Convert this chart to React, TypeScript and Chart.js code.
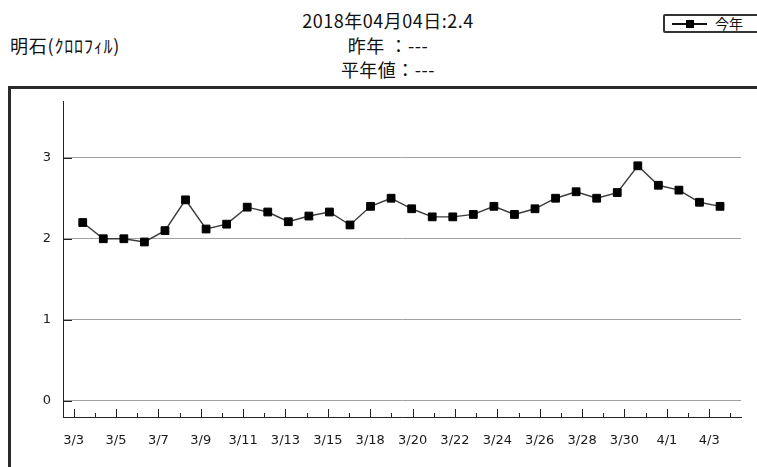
import React, { useEffect, useRef } from 'react';
import { Chart, registerables } from 'chart.js';

Chart.register(...registerables);

const categories = [
  '3/3', '3/4', '3/5', '3/6', '3/7', '3/8', '3/9', '3/10', '3/11', '3/12', '3/13', '3/14', '3/15', '3/16',
  '3/18', '3/19', '3/20', '3/21', '3/22', '3/23', '3/24', '3/25', '3/26', '3/27', '3/28', '3/29', '3/30', '3/31',
  '4/1', '4/2', '4/3', '4/4',
];

const values = [
  2.2, 2.0, 2.0, 1.96, 2.1, 2.48, 2.12, 2.18, 2.39, 2.33, 2.21, 2.28, 2.33, 2.17,
  2.4, 2.5, 2.37, 2.27, 2.27, 2.3, 2.4, 2.3, 2.37, 2.5, 2.58, 2.5, 2.57, 2.9,
  2.66, 2.6, 2.45, 2.4,
];

const yTicks = [0, 1, 2, 3];
const titleLines = ['2018年04月04日:2.4', '昨年 ：---', '平年値：---'];
const stationLabel = '明石(ｸﾛﾛﾌｨﾙ)';
const seriesName = '今年';

const JP = '"Noto Sans CJK JP", "Noto Sans", sans-serif';

export default function App() {
  const ref = useRef<HTMLCanvasElement>(null);

  useEffect(() => {
    const innerTicks = {
      id: 'innerTicks',
      beforeDatasetsDraw(chart: any) {
        const { ctx, chartArea, scales } = chart;
        const xs = scales.x;
        const ys = scales.y;
        ctx.save();
        ctx.strokeStyle = '#222';
        ctx.lineWidth = 1;
        ctx.beginPath();
        categories.forEach((_, i) => {
          const px = Math.round(xs.getPixelForValue(i)) + 0.5;
          const len = i % 2 === 0 ? 8 : 4;
          ctx.moveTo(px, chartArea.bottom);
          ctx.lineTo(px, chartArea.bottom - len);
        });
        yTicks.forEach((v) => {
          const py = Math.round(ys.getPixelForValue(v)) + 0.5;
          ctx.moveTo(chartArea.left, py);
          ctx.lineTo(chartArea.left + 9, py);
        });
        ctx.stroke();
        ctx.restore();
      },
    };

    const chart = new Chart(ref.current as HTMLCanvasElement, {
      type: 'line',
      data: {
        labels: categories,
        datasets: [
          {
            label: seriesName,
            data: values.map((v, i) => ({ x: i, y: v })),
            xAxisID: 'x2',
            yAxisID: 'y',
            borderColor: '#3a3a3a',
            borderWidth: 1.4,
            pointStyle: 'rect',
            pointRadius: 5.5,
            pointBackgroundColor: '#000',
            pointBorderColor: '#000',
            pointBorderWidth: 1,
            tension: 0,
          } as any,
        ],
      },
      options: {
        animation: false,
        responsive: false,
        layout: { autoPadding: false, padding: { top: 12, right: 16, left: 0, bottom: 0 } },
        plugins: { legend: { display: false }, tooltip: { enabled: false } },
        scales: {
          x: {
            type: 'category',
            offset: true,
            position: 'bottom',
            grid: { drawOnChartArea: false, drawTicks: false },
            border: { display: true, color: '#222', width: 1 },
            ticks: {
              autoSkip: false,
              maxRotation: 0,
              minRotation: 0,
              padding: 16,
              color: '#1a1a1a',
              font: { family: '"DejaVu Sans"', size: 13 },
              callback: (_v: any, i: number) => (i % 2 === 0 ? categories[i] : ''),
            },
            afterFit: (s: any) => {
              s.height = 50;
              s.paddingLeft = 0;
              s.paddingRight = 0;
            },
          },
          x2: {
            type: 'linear',
            display: false,
            min: -0.96,
            max: 32.02,
          },
          y: {
            min: -0.2,
            max: 3.7,
            afterBuildTicks: (s: any) => {
              s.ticks = yTicks.map((v) => ({ value: v }));
            },
            grid: { color: '#a0a0a0', drawTicks: false },
            border: { display: true, color: '#222', width: 1 },
            ticks: {
              padding: 12,
              color: '#1a1a1a',
              font: { family: '"DejaVu Sans"', size: 13 },
            },
            afterFit: (s: any) => {
              s.width = 52;
              s.paddingTop = 0;
              s.paddingBottom = 0;
            },
          },
        },
      } as any,
      plugins: [innerTicks],
    });
    return () => chart.destroy();
  }, []);

  return (
    <div style={{ position: 'fixed', left: 0, top: 0, width: 757, height: 467, overflow: 'hidden', background: '#fff' }}>
      {titleLines.map((t, i) => (
        <div
          key={i}
          style={{
            position: 'absolute',
            left: 188,
            width: 400,
            top: 8 + i * 24.5,
            height: 24,
            lineHeight: '24px',
            textAlign: 'center',
            fontFamily: JP,
            fontSize: 18,
            letterSpacing: 0.5,
            color: '#111',
            whiteSpace: 'pre',
          }}
        >
          {t}
        </div>
      ))}
      <div
        style={{
          position: 'absolute',
          left: 10,
          top: 33,
          lineHeight: '24px',
          fontFamily: JP,
          fontSize: 18,
          letterSpacing: 0.8,
          color: '#111',
          whiteSpace: 'pre',
        }}
      >
        {stationLabel}
      </div>
      <div
        style={{
          position: 'absolute',
          left: 663,
          top: 14,
          width: 120,
          height: 15,
          border: '2px solid #333',
          borderRadius: 2,
        }}
      >
        <div style={{ position: 'absolute', left: 7, top: 7, width: 35, height: 1.5, background: '#111' }} />
        <div style={{ position: 'absolute', left: 21, top: 4, width: 8, height: 8, background: '#000' }} />
        <div
          style={{
            position: 'absolute',
            left: 50,
            top: -2,
            lineHeight: '19px',
            fontFamily: JP,
            fontSize: 14,
            color: '#111',
            whiteSpace: 'pre',
          }}
        >
          {seriesName}
        </div>
      </div>
      <div
        style={{
          position: 'absolute',
          left: 8,
          top: 86,
          width: 800,
          height: 420,
          borderLeft: '3px solid #2a2a2a',
          borderTop: '3px solid #2a2a2a',
        }}
      />
      <canvas
        ref={ref}
        width={746}
        height={378}
        style={{ position: 'absolute', left: 11, top: 89, width: 746, height: 378 }}
      />
    </div>
  );
}
